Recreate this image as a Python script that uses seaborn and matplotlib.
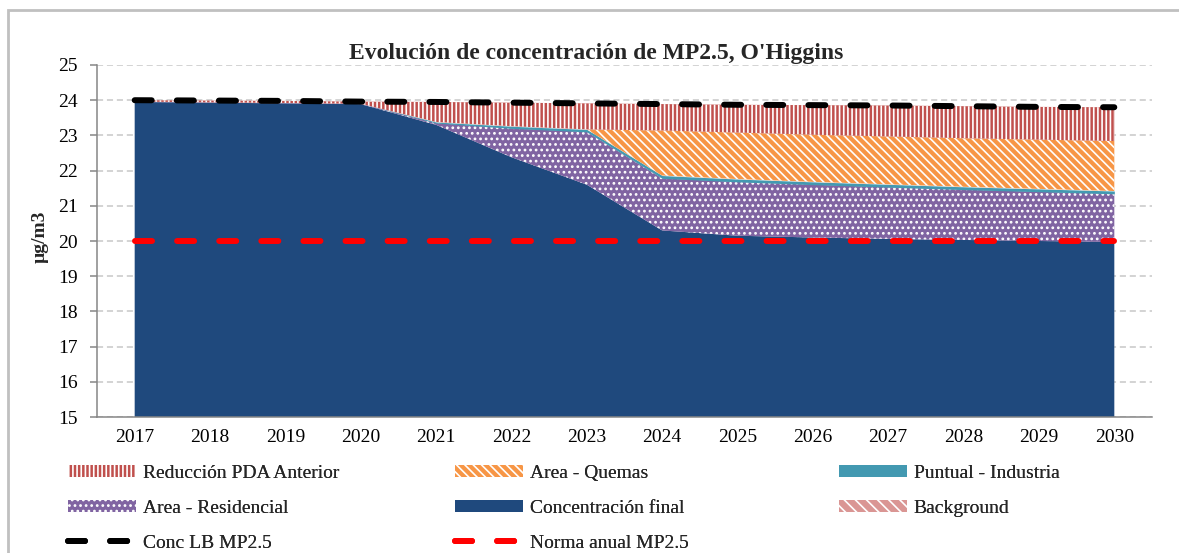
import numpy as np
import pandas as pd
import matplotlib.pyplot as plt
import matplotlib.patches as mpatches
from matplotlib.lines import Line2D
import seaborn as sns

# data (ug/m3)
years = [2017, 2018, 2019, 2020, 2021, 2022, 2023, 2024, 2025, 2026, 2027, 2028, 2029, 2030]
conc_final = [23.95, 23.93, 23.91, 23.89, 23.30, 22.38, 21.60, 20.30, 20.15, 20.10, 20.06, 20.03, 20.00, 19.97]
area_residencial = [0.01, 0.01, 0.01, 0.01, 0.05, 0.82, 1.50, 1.48, 1.53, 1.50, 1.47, 1.43, 1.40, 1.37]
puntual_industria = [0.0, 0.0, 0.0, 0.0, 0.03, 0.06, 0.07, 0.08, 0.08, 0.08, 0.08, 0.08, 0.08, 0.08]
area_quemas = [0.0, 0.0, 0.0, 0.0, 0.0, 0.0, 0.0, 1.28, 1.32, 1.34, 1.36, 1.38, 1.40, 1.42]
background = [0.0] * 14
conc_lb = [24.00, 23.99, 23.98, 23.96, 23.95, 23.93, 23.91, 23.89, 23.87, 23.86, 23.85, 23.83, 23.81, 23.80]
norma_anual = [20.0] * 14

df = pd.DataFrame({
    "year": years,
    "Background": background,
    "Concentración final": conc_final,
    "Area - Residencial": area_residencial,
    "Puntual - Industria": puntual_industria,
    "Area - Quemas": area_quemas,
})
df["Reducción PDA Anterior"] = np.array(conc_lb) - df.iloc[:, 1:].sum(axis=1)
df["Conc LB MP2.5"] = conc_lb
df["Norma anual MP2.5"] = norma_anual

sns.set_theme(style="white")
plt.rcParams["font.family"] = ["Liberation Serif", "DejaVu Serif"]
plt.rcParams["hatch.linewidth"] = 1.2

# name -> (facecolor, hatch)
layers = {
    "Background": ("#DA9694", "\\\\\\"),
    "Concentración final": ("#1F497D", None),
    "Area - Residencial": ("#8064A2", "..."),
    "Puntual - Industria": ("#4399B1", None),
    "Area - Quemas": ("#F79646", "\\\\\\\\"),
    "Reducción PDA Anterior": ("#C0504D", "||||"),
}

fig = plt.figure(figsize=(11.79, 5.53), dpi=100)
ax = fig.add_axes([97 / 1179, 1 - 417 / 553, 1055 / 1179, 352 / 553])

x = np.arange(len(years))
base = np.zeros(len(years))
handles = {}
for name, (col, hatch) in layers.items():
    top = base + df[name].to_numpy()
    ax.fill_between(x, base, top, facecolor=col, edgecolor="white",
                    hatch=hatch, linewidth=0, zorder=2)
    handles[name] = mpatches.Patch(facecolor=col, edgecolor="white",
                                   hatch=hatch, linewidth=0)
    base = top

dash = (0, (2.85, 4.2))
sns.lineplot(data=df, x=x, y="Conc LB MP2.5", ax=ax, color="black",
             linewidth=4.3, linestyle=dash, zorder=4)
sns.lineplot(data=df, x=x, y="Norma anual MP2.5", ax=ax, color="#FF0000",
             linewidth=4.3, linestyle=dash, zorder=4)
for ln in ax.get_lines():
    ln.set_dash_capstyle("round")

ax.set_xlim(-0.5, len(years) - 0.5)
ax.set_ylim(15, 25)
ax.set_yticks(range(15, 26))
ax.set_xticks(x)
ax.set_xticklabels([str(y) for y in years])
ax.set_xticks(np.arange(-0.5, len(years)), minor=True)
ax.tick_params(axis="x", which="major", length=0, pad=9, labelsize=14, colors="black")
ax.tick_params(axis="x", which="minor", length=5, width=1.1, color="#868686", direction="out")
ax.tick_params(axis="y", length=5, width=1.1, color="#868686", direction="out", pad=9,
               labelsize=14, labelcolor="black", left=True)
ax.set_xlabel("")
ax.set_ylabel("")
ax.yaxis.grid(True, color="#C8C8C8", linestyle=(0, (4, 2.5)), linewidth=1.1, zorder=0)
ax.set_axisbelow(True)
for side in ["top", "right"]:
    ax.spines[side].set_visible(False)
for side in ["left", "bottom"]:
    ax.spines[side].set_color("#868686")
    ax.spines[side].set_linewidth(1.1)
    ax.spines[side].set_zorder(5)

fig.text(0.506, 1 - 54 / 553, "Evolución de concentración de MP2.5, O'Higgins",
         ha="center", va="center", fontsize=17, fontweight="bold")
fig.text(40 / 1179, 1 - 237 / 553, "µg/m3", rotation=90, ha="center", va="center",
         fontsize=14, fontweight="bold")

lb_handle = Line2D([], [], color="black", linewidth=4.3, linestyle=dash, dash_capstyle="round")
norma_handle = Line2D([], [], color="#FF0000", linewidth=4.3, linestyle=dash, dash_capstyle="round")

columns = [
    (68, [handles["Reducción PDA Anterior"], handles["Area - Residencial"], lb_handle],
     ["Reducción PDA Anterior", "Area - Residencial", "Conc LB MP2.5"]),
    (455, [handles["Area - Quemas"], handles["Concentración final"], norma_handle],
     ["Area - Quemas", "Concentración final", "Norma anual MP2.5"]),
    (839, [handles["Puntual - Industria"], handles["Background"]],
     ["Puntual - Industria", "Background"]),
]
for xpos, hs, labels in columns:
    leg = fig.legend(hs, labels, loc="upper left", bbox_to_anchor=(xpos / 1179, 1 - 465 / 553),
                     frameon=False, fontsize=14, handlelength=3.5, handleheight=0.6,
                     handletextpad=0.35, labelspacing=0.92, borderpad=0, borderaxespad=0)
    fig.add_artist(leg)

fig.add_artist(mpatches.Rectangle((8 / 1179, -0.2), 1.2, 0.2 + 1 - 10 / 553,
                                  transform=fig.transFigure, fill=False,
                                  edgecolor="#C0C0C0", linewidth=2))

fig.savefig("out.png", dpi=100)
